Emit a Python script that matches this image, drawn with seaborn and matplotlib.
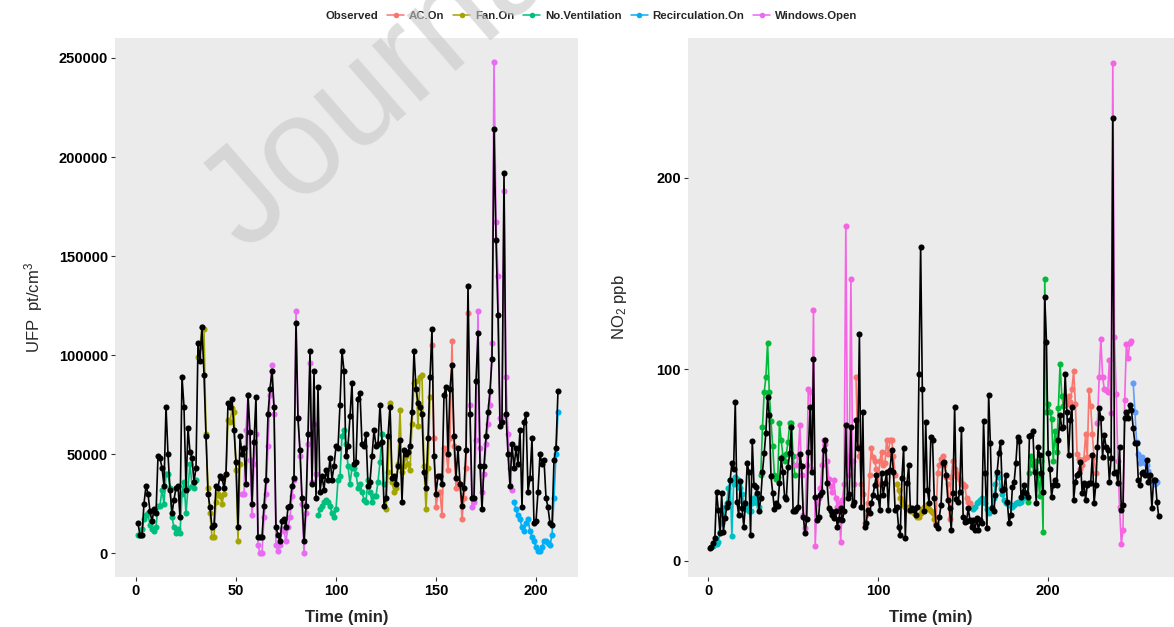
import numpy as np
import matplotlib
matplotlib.use("Agg")
import matplotlib.pyplot as plt
import seaborn as sns
from matplotlib.lines import Line2D
from matplotlib.ticker import FuncFormatter

## UFP panel: one reading per minute, values in thousand pt/cm3

# predicted (black), minutes 1..211
ufp_pred = [15, 9, 9, 25, 34, 30, 21, 16, 22, 20,
            49, 48, 43, 34, 74, 50, 32, 20, 27, 33,
            34, 18, 89, 74, 32, 63, 51, 48, 36, 43,
            106, 97, 114, 90, 59, 30, 23, 13, 14, 34,
            33, 39, 38, 33, 40, 76, 74, 78, 62, 46,
            13, 59, 50, 53, 35, 80, 61, 25, 56, 79,
            8, 8, 8, 24, 37, 70, 83, 92, 74, 13,
            9, 6, 16, 17, 13, 23, 24, 34, 38, 116,
            68, 52, 28, 6, 24, 60, 102, 35, 92, 28,
            84, 31, 39, 32, 42, 37, 48, 37, 44, 54,
            53, 75, 102, 92, 49, 54, 69, 86, 45, 46,
            78, 81, 55, 54, 60, 34, 36, 49, 62, 54,
            55, 75, 56, 24, 28, 59, 74, 38, 39, 35,
            44, 57, 26, 52, 50, 51, 54, 71, 102, 83,
            76, 74, 70, 41, 33, 58, 89, 113, 49, 30,
            39, 39, 35, 80, 84, 50, 83, 95, 59, 38,
            53, 35, 24, 33, 52, 135, 70, 28, 28, 87,
            111, 44, 22, 44, 59, 71, 82, 98, 214, 158,
            120, 64, 66, 192, 70, 50, 34, 55, 43, 53,
            45, 62, 23, 66, 70, 31, 38, 58, 15, 16,
            31, 50, 45, 47, 28, 23, 15, 14, 47, 53,
            82]

# observed, by ventilation condition (start minute + readings)
ufp_nv1_start = 1
ufp_nv1 = [9, 9, 12, 17, 19, 20, 14, 12, 11, 13, 24, 24, 32, 25, 40,
           40, 33, 18, 13, 10, 12, 10, 30, 36, 20, 33, 45, 34, 33, 37]
ufp_fan1_start = 31
ufp_fan1 = [99, 104, 114, 113, 60, 33, 20, 8, 8, 26, 30, 29, 25, 30, 40,
            67, 66, 73, 71, 42, 6, 45]
ufp_win1_start = 53
ufp_win1 = [30, 30, 62, 80, 47, 19, 45, 60, 4, 0, 0, 18, 30, 54, 80, 95,
            70, 4, 1, 4, 12, 11, 6, 13, 18, 29, 37, 122, 68, 49, 25, 0,
            20, 55, 96, 36, 65, 40]
ufp_nv2_start = 91
ufp_nv2 = [19, 22, 24, 26, 27, 26, 24, 20, 18, 22, 37, 39, 59, 62, 55, 44,
           35, 43, 43, 40, 33, 35, 31, 27, 26, 37, 31, 26, 29, 29, 36, 46,
           60, 35]
ufp_fan2_start = 125
ufp_fan2 = [22, 41, 76, 36, 31, 33, 45, 72, 41, 44, 49, 45, 42, 65, 86, 87,
            64, 89, 90, 44, 22, 43, 79]
ufp_ac1_start = 148
ufp_ac1 = [105, 58, 23, 30, 31, 19, 53, 52, 42, 58, 107, 54, 33, 36, 35, 17,
           28, 43, 121]
ufp_win2_start = 167
ufp_win2 = [75, 23, 26, 57, 122, 53, 31, 40, 55, 65, 75, 106, 248, 167, 140,
            68, 69, 183, 89, 60, 43, 32]
ufp_rec1_start = 189
ufp_rec1 = [26, 22, 19, 17, 13, 11, 15, 17, 11, 8, 6, 3, 1, 1, 3, 6, 6, 5, 4,
            9, 28, 50, 71]

## NO2 panel: one reading per minute, ppb

no2_pred = [6.6, 7.5, 9.3, 11.9, 36.2, 26.7, 14.5, 35.3, 15.3, 22.3,
            28.4, 30, 42.3, 51, 48, 83.2, 31, 24, 41.6, 27.5,
            17.9, 30, 51, 46.6, 13.6, 62.8, 39.6, 38.8, 35.3, 26.3,
            32.7, 46.6, 56.2, 67, 85.4, 76.2, 44.3, 35.6, 27, 30,
            28.7, 40.5, 53.6, 46.6, 33.5, 32.1, 49.2, 56.2, 70.1, 25.8,
            25.8, 27, 28, 55.8, 49.6, 23.1, 14.5, 21.7, 57, 80.2,
            46.6, 105.3, 33.5, 21.3, 23.1, 34.4, 36.2, 57.9, 63.1, 40.5,
            27.5, 25.8, 24, 22.3, 25.8, 17.9, 22, 27.5, 21.3, 25.8,
            71, 32.7, 35, 69.8, 29.1, 31, 73.7, 58.8, 118.5, 28.4,
            78, 17.5, 20, 26.7, 24.9, 30, 34.4, 39.6, 44.9, 33.5,
            26.7, 45.7, 34.4, 40.5, 46.6, 26.7, 47.5, 57.9, 46.6, 26.7,
            28.4, 17.9, 13.6, 43.1, 59.1, 11.9, 40.5, 50.1, 26.7, 27.5,
            26.7, 24, 28.4, 97.7, 164, 89.7, 25.8, 72.4, 37, 30.1,
            64.8, 63.1, 32.7, 18.8, 17, 23.1, 29.1, 51, 51.9, 44.9,
            31.9, 27.5, 16.2, 35.3, 80.6, 32.1, 31, 36.2, 69, 23.1,
            20.5, 21, 27.5, 21.3, 17.9, 21.3, 16.2, 22.3, 16.2, 21.3,
            19.6, 72.9, 45.7, 17, 86.7, 61.5, 27.5, 25.8, 34.4, 46.6,
            56.2, 62.3, 37, 37.4, 44.9, 30.5, 19.6, 24, 38.8, 41.4,
            51, 64.6, 62.8, 33.5, 36.2, 39.6, 35.3, 33.5, 65.3, 65.8,
            67.6, 46.6, 30.1, 59.7, 55.4, 45.8, 36.2, 137.6, 114.4, 56.2,
            47.9, 33.6, 39.7, 42.3, 39.7, 63.2, 76.2, 69.3, 70.1, 97.6,
            78, 55.4, 73.6, 80.6, 31.9, 41.4, 44.9, 45.8, 51.9, 35.4,
            40.6, 31.9, 39.7, 40.9, 40.6, 55.4, 30.1, 39.7, 59.7, 79.7,
            74.5, 54.5, 65.8, 59.7, 58, 41.4, 53.6, 231.1, 45.8, 46.6,
            40.6, 59.7, 26.6, 29.2, 74.5, 78, 74.5, 81.4, 78.8, 69.3,
            61.5, 61.5, 42.3, 39.7, 45.8, 46.6, 44.9, 52.8, 41.4, 44.9,
            27.5, 42.3, 42.3, 31, 23.2]

no2_rec1_start = 3
no2_rec1 = [8, 9, 9, 10, 15, 20, 24, 28, 30, 38, 42, 13, 40, 44, 43, 40, 38,
            35, 30, 27, 28, 26, 26, 30, 33, 34, 30, 28]
no2_nv1_start = 31
no2_nv1 = [45, 70, 88, 96, 114, 88, 73, 60, 45, 43, 44, 72, 63, 55, 52, 56,
           62, 72, 72, 55, 45]
no2_win1_start = 52
no2_win1 = [50, 55, 71, 45, 24, 17, 50, 90, 88, 48, 131, 8, 30, 33, 38, 50,
            63, 61, 52, 43, 39, 36, 42, 33, 28, 30, 10, 32, 40, 175, 55, 45,
            147, 52, 40]
no2_ac1_start = 87
no2_ac1 = [96, 60, 55, 40, 35, 20, 24, 30, 45, 59, 54, 52, 48, 40, 52, 57,
           50, 51, 63, 56, 63, 63, 55, 45]
no2_fan1_start = 111
no2_fan1 = [40, 37, 33, 31, 29, 28, 27, 28, 26, 26, 25, 24, 23, 23, 25, 27,
            28, 29, 28, 27, 26, 25, 22]
no2_ac2_start = 134
no2_ac2 = [20, 46, 50, 53, 55, 50, 44, 40, 22, 44, 52, 48, 46, 44, 42, 40,
           40, 39, 33, 31, 30, 28]
no2_rec2_start = 156
no2_rec2 = [27, 28, 30, 31, 32, 33, 31, 30, 27, 25, 26, 28, 33, 40, 45, 44,
            38, 35, 32, 30, 30, 29, 29, 28, 29, 30, 31, 30, 31, 33, 34, 35]
no2_nv2_start = 188
no2_nv2 = [31, 46, 55, 50, 48, 52, 45, 34, 52, 15, 147, 78, 82, 78, 74, 52,
           68, 57, 80, 103, 86, 81]
no2_ac3_start = 210
no2_ac3 = [84, 82, 86, 83, 90, 99, 82, 56, 53, 48, 50, 53, 66, 54, 89, 81,
           66, 54, 46]
no2_win2_start = 229
no2_win2 = [72, 96, 116, 96, 90, 89, 88, 105, 77, 260, 117, 87, 52, 28, 9,
            16, 84, 113, 106, 114, 115]
no2_rec3_start = 250
no2_rec3 = [93, 78, 62, 56, 51, 54, 52, 51, 50, 47, 44, 42, 41, 40, 41]

conditions = ["AC.On", "Fan.On", "No.Ventilation", "Recirculation.On", "Windows.Open"]
ufp_colors = ["#F8766D", "#A3A500", "#00BF7D", "#00B0F6", "#E76BF3"]
no2_colors = {"AC.On": "#F8766D", "Fan.On": "#B79F00", "No.Ventilation": "#00BA38",
              "Recirculation.On": "#00BFC4", "Windows.Open": "#F564E3"}
no2_last_rec_color = "#619CFF"

ufp_colmap = dict(zip(conditions, ufp_colors))

ufp_segments = [("No.Ventilation", ufp_nv1_start, ufp_nv1),
                ("Fan.On", ufp_fan1_start, ufp_fan1),
                ("Windows.Open", ufp_win1_start, ufp_win1),
                ("No.Ventilation", ufp_nv2_start, ufp_nv2),
                ("Fan.On", ufp_fan2_start, ufp_fan2),
                ("AC.On", ufp_ac1_start, ufp_ac1),
                ("Windows.Open", ufp_win2_start, ufp_win2),
                ("Recirculation.On", ufp_rec1_start, ufp_rec1)]

no2_segments = [(no2_colors["Recirculation.On"], no2_rec1_start, no2_rec1),
                (no2_colors["No.Ventilation"], no2_nv1_start, no2_nv1),
                (no2_colors["Windows.Open"], no2_win1_start, no2_win1),
                (no2_colors["AC.On"], no2_ac1_start, no2_ac1),
                (no2_colors["Fan.On"], no2_fan1_start, no2_fan1),
                (no2_colors["AC.On"], no2_ac2_start, no2_ac2),
                (no2_colors["Recirculation.On"], no2_rec2_start, no2_rec2),
                (no2_colors["No.Ventilation"], no2_nv2_start, no2_nv2),
                (no2_colors["AC.On"], no2_ac3_start, no2_ac3),
                (no2_colors["Windows.Open"], no2_win2_start, no2_win2),
                (no2_last_rec_color, no2_rec3_start, no2_rec3)]

sns.set_theme(style="dark", rc={"axes.facecolor": "#EBEBEB", "figure.facecolor": "white"})
plt.rcParams['font.family'] = ['Liberation Sans', 'DejaVu Sans']
plt.rcParams['mathtext.default'] = 'regular'

fig = plt.figure(figsize=(11.74, 6.27), dpi=100)
ax1 = fig.add_axes([115 / 1174, 50 / 627, 463 / 1174, 539 / 627])
ax2 = fig.add_axes([688 / 1174, 50 / 627, 486 / 1174, 539 / 627])

line_kw = dict(marker='o', markersize=4.4, markeredgewidth=0, linewidth=1.2,
               estimator=None, sort=False, legend=False)

# observed series, coloured by condition
for cond, start, vals in ufp_segments:
    t = np.arange(start, start + len(vals))
    sns.lineplot(x=t, y=np.array(vals) * 1000, ax=ax1, color=ufp_colmap[cond], **line_kw)
for col, start, vals in no2_segments:
    t = np.arange(start, start + len(vals))
    sns.lineplot(x=t, y=vals, ax=ax2, color=col, **line_kw)

# predicted series in black on top
sns.lineplot(x=np.arange(1, len(ufp_pred) + 1), y=np.array(ufp_pred) * 1000,
             ax=ax1, color='black', **line_kw)
sns.lineplot(x=np.arange(1, len(no2_pred) + 1), y=no2_pred,
             ax=ax2, color='black', **line_kw)

ax1.set_xlim(-10.5, 221)
ax1.set_ylim(-12100, 260100)
ax1.set_xticks([0, 50, 100, 150, 200])
ax1.set_yticks([0, 50000, 100000, 150000, 200000, 250000])
ax1.yaxis.set_major_formatter(FuncFormatter(lambda v, p: f"{int(v)}"))
ax1.set_ylabel("UFP  pt/cm$^3$", fontsize=12, labelpad=10)

ax2.set_xlim(-11.8, 274)
ax2.set_ylim(-8.4, 273)
ax2.set_xticks([0, 100, 200])
ax2.set_yticks([0, 100, 200])
ax2.set_ylabel("NO$_2$ ppb", fontsize=12, labelpad=20)

for ax in (ax1, ax2):
    ax.set_xlabel("Time (min)", fontsize=12, fontweight='bold', labelpad=9)
    ax.tick_params(bottom=True, left=True, length=3, width=0.8, color='#333333',
                   labelsize=10.5, pad=2, labelcolor='black')
    for lab in ax.get_xticklabels() + ax.get_yticklabels():
        lab.set_fontweight('bold')
    for s in ax.spines.values():
        s.set_visible(False)

# legend across the top
handles = [Line2D([0], [0], color=c, marker='o', markersize=4, markeredgewidth=0, linewidth=1.1)
           for c in ufp_colors]
fig.text(326 / 1174, 1 - 16 / 627, "Observed", fontsize=8.2, fontweight='bold', va='center')
fig.legend(handles, conditions, loc='center left', bbox_to_anchor=(387 / 1174, 1 - 16 / 627),
           ncol=5, frameon=False, prop={'size': 8.2, 'weight': 'bold'},
           handlelength=1.5, handletextpad=0.4, columnspacing=0.8, borderaxespad=0, borderpad=0)

# watermark
fig.text(245 / 1174, 1 - 252 / 627, "Journal", fontsize=100, color='#C8C8C8',
         alpha=0.6, rotation=41, rotation_mode='anchor', ha='left', va='baseline', zorder=10)

fig.savefig("out.png", dpi=100)
